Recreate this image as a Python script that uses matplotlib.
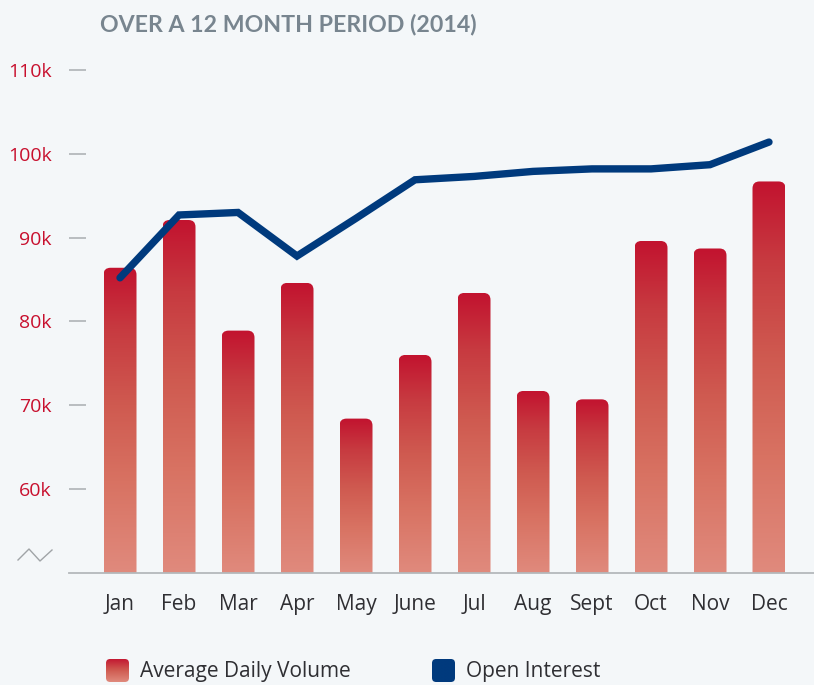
import matplotlib
matplotlib.use("Agg")
import matplotlib.pyplot as plt
import numpy as np
from matplotlib.patches import FancyBboxPatch
from matplotlib.lines import Line2D
from matplotlib.colors import LinearSegmentedColormap

# ---- data (thousands) ----
months = ["Jan", "Feb", "Mar", "Apr", "May", "June", "Jul", "Aug", "Sept", "Oct", "Nov", "Dec"]
avg_daily_volume = [86.4, 92.1, 78.9, 84.6, 68.4, 76.0, 83.4, 71.7, 70.7, 89.6, 88.7, 96.7]
open_interest = [85.2, 92.7, 93.0, 87.8, 92.3, 96.9, 97.3, 97.9, 98.2, 98.2, 98.7, 101.4]
yticks = [60, 70, 80, 90, 100, 110]
ytick_labels = ["60k", "70k", "80k", "90k", "100k", "110k"]
title = "OVER A 12 MONTH PERIOD (2014)"
legend_labels = ["Average Daily Volume", "Open Interest"]

W, H = 814, 685
BG = "#f4f7f9"
RED_TOP = "#c2132f"
LINE_C = "#003a7d"
fig = plt.figure(figsize=(W / 100, H / 100), dpi=100, facecolor=BG)

def fx(px):
    return px / W

def fy(py):
    return 1 - py / H

# axes geometry in pixels
ax_left, ax_right = 69, 814
y_bottom_px = 572.8
px_per_k = 8.38
ymin, ymax = 50, 113
ax_top_px = y_bottom_px - (ymax - ymin) * px_per_k
x_px_per_unit = 59.0
xmin = (ax_left - 120) / x_px_per_unit
xmax = (ax_right - 120) / x_px_per_unit

ax = fig.add_axes([fx(ax_left), fy(y_bottom_px), fx(ax_right - ax_left),
                   (y_bottom_px - ax_top_px) / H])
ax.set_facecolor(BG)
ax.set_xlim(xmin, xmax)
ax.set_ylim(ymin, ymax)
for s in ["left", "right", "top"]:
    ax.spines[s].set_visible(False)
ax.spines["bottom"].set_color("#b4b8bb")
ax.spines["bottom"].set_linewidth(1.3)

bar_stops = [(0, "#e08a7d"), (0.3, "#d87262"), (0.55, "#cf5a50"),
             (0.8, "#c73a40"), (1.0, RED_TOP)]
cmap = LinearSegmentedColormap.from_list("bar", bar_stops)
grad = np.linspace(0, 1, 256).reshape(-1, 1)

bar_w = 33 / x_px_per_unit
r = 7 / x_px_per_unit
aspect = x_px_per_unit / px_per_k
x = np.arange(len(months))
for xi, v in zip(x, avg_daily_volume):
    patch = FancyBboxPatch((xi - bar_w / 2, ymin - 5), bar_w, v - (ymin - 5),
                           boxstyle=f"round,pad=0,rounding_size={r}",
                           mutation_aspect=aspect, facecolor="none",
                           edgecolor="none", zorder=2)
    ax.add_patch(patch)
    im = ax.imshow(grad, cmap=cmap, origin="lower", aspect="auto",
                   extent=(xi - bar_w / 2, xi + bar_w / 2, ymin, v),
                   zorder=2, interpolation="bilinear")
    im.set_clip_path(patch)
ax.set_xlim(xmin, xmax)
ax.set_ylim(ymin, ymax)

ax.plot(x, open_interest, color=LINE_C, lw=5.3, solid_capstyle="round",
        solid_joinstyle="miter", zorder=3)

# ticks
ax.set_xticks(x)
ax.set_xticklabels(months, fontsize=15, color="#2f2f33", family="Open Sans")
ax.tick_params(axis="x", length=0, pad=15.5)
ax.set_yticks(yticks)
ax.set_yticklabels(ytick_labels, fontsize=14, color="#c8102e", family="Open Sans")
ax.tick_params(axis="y", direction="in", length=12.5, width=1.1, color="#a9adb0", pad=12.5)

# axis break symbol
fig.add_artist(Line2D([fx(18), fx(29), fx(40), fx(52)],
                      [fy(560), fy(549), fy(561), fy(550)],
                      color="#a0a4a7", lw=1.0, transform=fig.transFigure))

# title
fig.text(fx(100), fy(31), title, fontsize=16.7, fontweight="bold",
         color="#78858f", family="Lato", va="baseline", ha="left")

# legend
def legend_square(x0, y0, size, colors):
    lax = fig.add_axes([fx(x0), fy(y0 + size), fx(size), size / H])
    lax.set_xlim(0, 1)
    lax.set_ylim(0, 1)
    lax.axis("off")
    p = FancyBboxPatch((0, 0), 1, 1, boxstyle="round,pad=0,rounding_size=0.18",
                       facecolor="none", edgecolor="none", transform=lax.transData)
    lax.add_patch(p)
    cm = LinearSegmentedColormap.from_list("l", colors)
    im = lax.imshow(grad, cmap=cm, origin="lower", aspect="auto",
                    extent=(0, 1, 0, 1))
    im.set_clip_path(p)

legend_square(106, 659, 23, ["#e08a7d", "#cf5a50", RED_TOP])
legend_square(432, 659, 23, [LINE_C, LINE_C])
fig.text(fx(140), fy(671), legend_labels[0], fontsize=15, color="#2f2f33",
         family="Open Sans", va="center", ha="left")
fig.text(fx(466), fy(671), legend_labels[1], fontsize=15, color="#2f2f33",
         family="Open Sans", va="center", ha="left")

fig.savefig("out.png", dpi=100, facecolor=BG)
